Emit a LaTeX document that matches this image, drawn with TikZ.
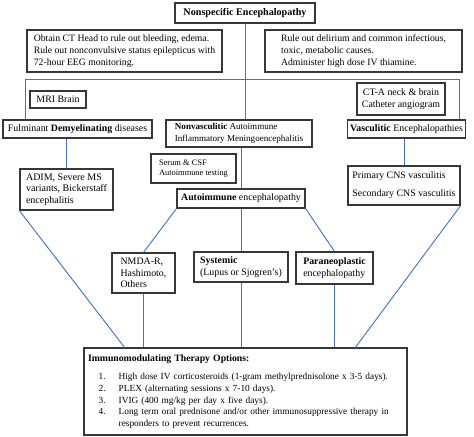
\documentclass[tikz,border=0pt]{standalone}
\usepackage{fontspec}
\setmainfont{Liberation Serif}
\usepackage{tikz}

\definecolor{linkblue}{RGB}{68,114,196}
\definecolor{boxgray}{RGB}{55,55,55}

\tikzset{
  box/.style={draw=boxgray, line width=0.9pt, fill=white, align=left,
    inner xsep=2pt, inner ysep=0pt, font=\fontsize{7.4}{8.8}\selectfont},
  link/.style={draw=linkblue, line width=0.7pt}
}

\begin{document}
\begin{tikzpicture}[x=0.75pt,y=0.75pt,yscale=-1,xscale=1]
\useasboundingbox (0,0) rectangle (474,436);

% Boxes
\node [box, align=center, minimum width=105pt, minimum height=15pt, font=\fontsize{7.6}{9}\selectfont\bfseries] (top) at (245,13) {Nonspecific Encephalopathy};
\node [box, minimum width=146.25pt, minimum height=31.5pt, font=\fontsize{7.3}{9}\selectfont] (ctHead) at (124.5,51) {Obtain CT Head to rule out bleeding, edema.\\Rule out nonconvulsive status epilepticus with\\72-hour EEG monitoring.};
\node [box, minimum width=147.75pt, minimum height=31.5pt, font=\fontsize{7.3}{9}\selectfont] (delirium) at (363.5,51) {Rule out delirium and common infectious,\\toxic, metabolic causes.\\Administer high dose IV thiamine.};
\node [box, align=center, minimum width=42pt, minimum height=12.75pt] (mri) at (58,99.5) {MRI Brain};
\node [box, align=center, minimum width=66pt, minimum height=24pt] (cta) at (401,99) {CT-A neck \& brain\\Catheter angiogram};
\node [box, align=center, minimum width=111.75pt, minimum height=13.5pt] (demyel) at (77.5,129) {Fulminant \textbf{Demyelinating} diseases};
\node [box, minimum width=109.5pt, minimum height=20.25pt, font=\fontsize{6.8}{8.6}\selectfont] (nonvasc) at (239,133.5) {\textbf{Nonvasculitic} Autoimmune\\Inflammatory Meningoencephalitis};
\node [box, align=center, minimum width=87.75pt, minimum height=13.5pt] (vasc) at (406.5,129) {\textbf{Vasculitic} Encephalopathies};
\node [box, minimum width=69.75pt, minimum height=30.75pt, font=\fontsize{7.5}{8.6}\selectfont] (adim) at (66.5,189.5) {ADIM, Severe MS\\variants, Bickerstaff\\encephalitis};
\node [box, minimum width=63.75pt, minimum height=21.75pt, font=\fontsize{6.3}{8}\selectfont] (serum) at (193.5,168.5) {Serum \& CSF\\Autoimmune testing};
\node [box, align=center, minimum width=96pt, minimum height=14.25pt] (autoimm) at (241,198.5) {\textbf{Autoimmune} encephalopathy};
\node [box, minimum width=84pt, minimum height=29.25pt, font=\fontsize{7.4}{13.5}\selectfont] (primary) at (404,185.5) {Primary CNS vasculitis\\Secondary CNS vasculitis};
\node [box, minimum width=47.25pt, minimum height=30pt, font=\fontsize{7.4}{8.6}\selectfont] (nmda) at (143.5,273) {NMDA-R,\\Hashimoto,\\Others};
\node [box, minimum width=70.5pt, minimum height=22.5pt] (systemic) at (241,267) {\textbf{Systemic}\\(Lupus or Sjogren's)};
\node [box, minimum width=57.75pt, minimum height=24pt] (paraneo) at (334.5,268) {\textbf{Paraneoplastic}\\encephalopathy};
\node [box, text width=236.25pt, inner xsep=3pt, inner ysep=3pt, minimum height=65.25pt, font=\fontsize{7}{8.8}\selectfont] (therapy) at (245.5,391.5) {{\fontsize{7.3}{9}\selectfont\textbf{Immunomodulating Therapy Options:}}\\[5pt]
\hspace*{8pt}\makebox[15pt][l]{1.}High dose IV corticosteroids (1-gram methylprednisolone x 3-5 days).\\
\hspace*{8pt}\makebox[15pt][l]{2.}PLEX (alternating sessions x 7-10 days).\\
\hspace*{8pt}\makebox[15pt][l]{3.}IVIG (400 mg/kg per day x five days).\\
\hspace*{8pt}\makebox[15pt][l]{4.}Long term oral prednisone and/or other immunosuppressive therapy in\\
\hspace*{23pt}responders to prevent recurrences.};

% Free ends
\coordinate (splitL) at (25,79);
\coordinate (splitR) at (459,79);
\coordinate (inL) at (125,348);
\coordinate (inR) at (355,348);

% Connectors
\draw [link] (top.south) -- (top.south |- nonvasc.north);
\draw [link] (demyel.north -| splitL) -- (splitL) -- (splitR) -- (vasc.north -| splitR);
\draw [link] (adim.north) -- (adim.north |- demyel.south);
\draw [link] (autoimm.north) -- (autoimm.north |- nonvasc.south);
\draw [link] (primary.north) -- (primary.north |- vasc.south);
\draw [link] (autoimm.south west) -- (nmda.north);
\draw [link] (autoimm.south) -- (systemic.north);
\draw [link] (autoimm.south east) -- (paraneo.north);
\draw [link] (adim.south west) -- (inL);
\draw [link] (nmda.south) -- (nmda.south |- therapy.north);
\draw [link] (systemic.south) -- (systemic.south |- therapy.north);
\draw [link] (paraneo.south) -- (paraneo.south |- therapy.north);
\draw [link] (primary.south east) -- (inR);

\end{tikzpicture}
\end{document}
